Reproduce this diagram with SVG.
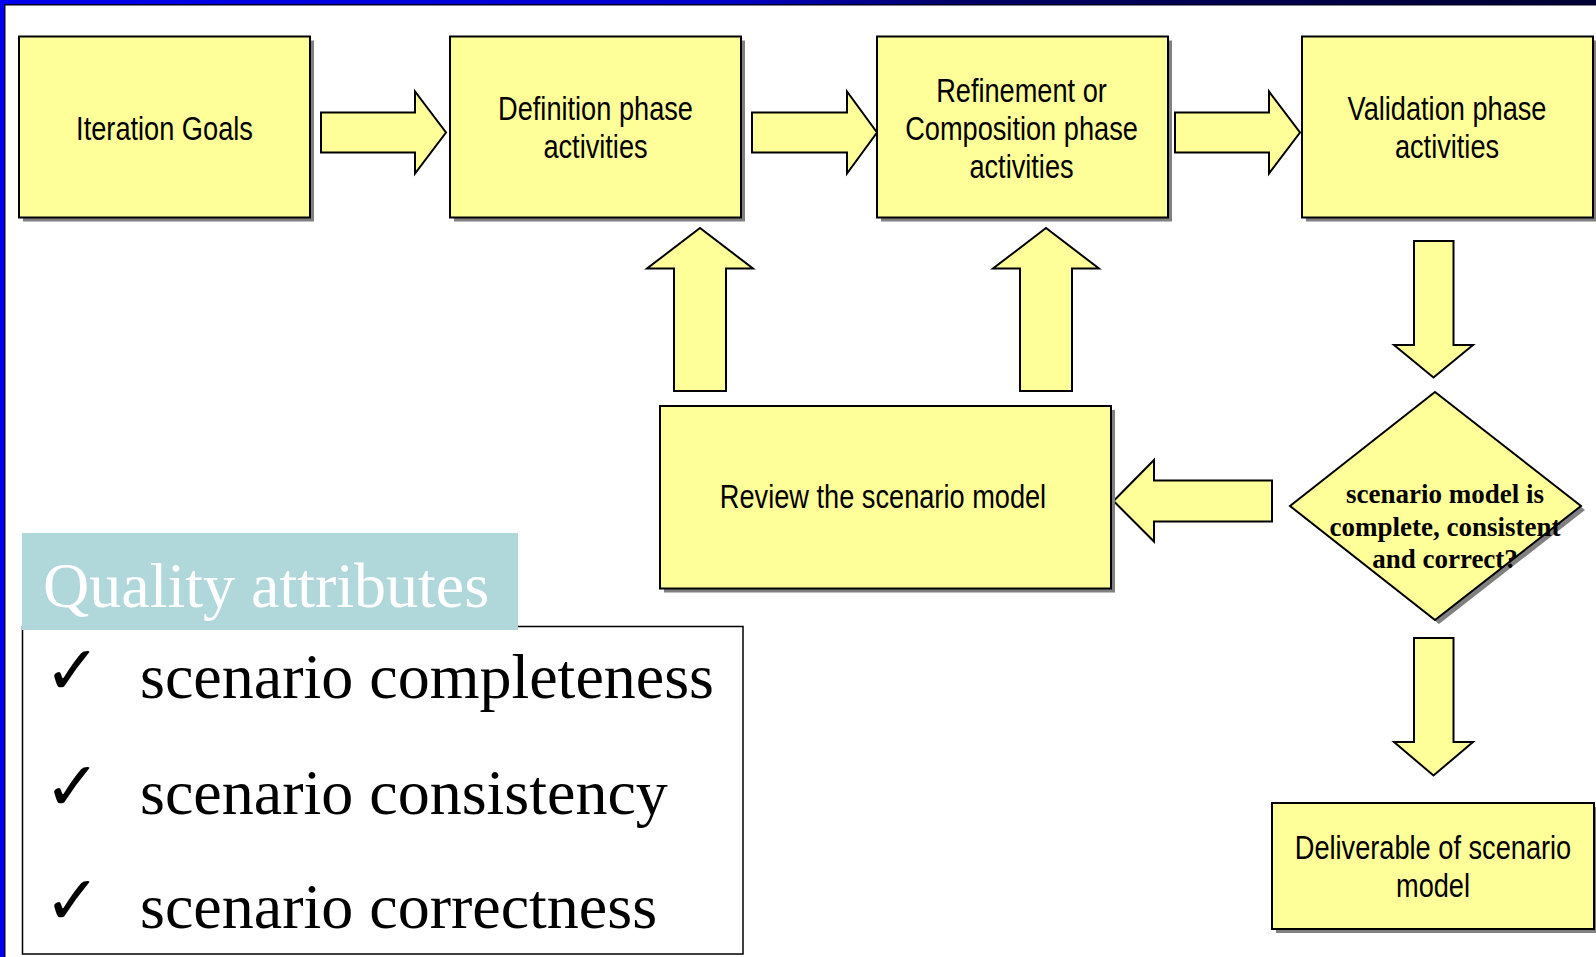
<svg xmlns="http://www.w3.org/2000/svg" width="1596" height="957" viewBox="0 0 1596 957">
  <style>
    .box { fill: #FFFF99; stroke: #000; stroke-width: 2; }
    .shadow { fill: #808080; }
    .arrow { fill: #FFFF99; stroke: #000; stroke-width: 2; stroke-linejoin: miter; }
    .lbl { font-family: "Liberation Sans Narrow", "Liberation Sans", Arial, sans-serif; font-size: 34px; fill: #000; text-anchor: middle; }
    .qlbl { font-family: "Liberation Serif", "Times New Roman", serif; font-weight: bold; font-size: 27px; fill: #000; text-anchor: middle; }
    .item { font-family: "Liberation Serif", "Times New Roman", serif; font-size: 64px; fill: #000; }
    .check { font-family: "DejaVu Sans", sans-serif; font-weight: bold; font-size: 68px; fill: #000; }
  </style>
  <defs>
    <linearGradient id="topbar" x1="0" y1="0" x2="1" y2="0">
      <stop offset="0" stop-color="#0000EE"/>
      <stop offset="0.45" stop-color="#0000CC"/>
      <stop offset="0.6" stop-color="#000066"/>
      <stop offset="1" stop-color="#000033"/>
    </linearGradient>
  </defs>

  <rect width="1596" height="957" fill="#FFFFFF"/>

  <!-- slide frame -->
  <g id="frame">
    <rect x="0" y="0" width="1596" height="4" fill="url(#topbar)"/>
    <rect x="0" y="4" width="1596" height="1.5" fill="#000022"/>
    <rect x="0" y="0" width="4" height="957" fill="#0000EE"/>
    <rect x="4" y="5" width="1.5" height="952" fill="#000044"/>
  </g>

  <!-- flow arrows -->
  <g id="connectors">
    <polygon class="arrow" points="321,112.5 415,112.5 415,91.5 446,132.5 415,173.5 415,152.5 321,152.5"/>
    <polygon class="arrow" points="752,112.5 847,112.5 847,91.5 877,132.5 847,173.5 847,152.5 752,152.5"/>
    <polygon class="arrow" points="1175,112.5 1269,112.5 1269,91.5 1300,132.5 1269,173.5 1269,152.5 1175,152.5"/>
    <polygon class="arrow" points="674,391 674,268.5 647,268.5 700,228 753,268.5 726,268.5 726,391"/>
    <polygon class="arrow" points="1020,391 1020,268.5 993,268.5 1046,228 1099,268.5 1072,268.5 1072,391"/>
    <polygon class="arrow" points="1272,480.5 1154,480.5 1154,460 1113.5,501 1154,541.5 1154,521.5 1272,521.5"/>
    <polygon class="arrow" points="1414,241 1453.5,241 1453.5,345 1473,345 1433.5,377.5 1394,345 1414,345"/>
    <polygon class="arrow" points="1414,638 1453.5,638 1453.5,742 1473,742 1433.5,775.5 1394,742 1414,742"/>
  </g>

  <!-- node labels are set in a narrowed sans: each text is scaled to 80% width about its centre -->
  <g id="iteration-goals">
    <rect class="shadow" x="23" y="40.5" width="291" height="181"/>
    <rect class="box" x="19" y="36.5" width="291" height="181"/>
    <text class="lbl" transform="matrix(0.8 0 0 1 164.5 139.5)">Iteration Goals</text>
  </g>

  <g id="definition-phase">
    <rect class="shadow" x="454" y="40.5" width="291" height="181"/>
    <rect class="box" x="450" y="36.5" width="291" height="181"/>
    <text class="lbl" transform="matrix(0.8 0 0 1 595.5 119.5)">Definition phase</text>
    <text class="lbl" transform="matrix(0.8 0 0 1 595.5 158)">activities</text>
  </g>

  <g id="refinement-phase">
    <rect class="shadow" x="881" y="40.5" width="291" height="181"/>
    <rect class="box" x="877" y="36.5" width="291" height="181"/>
    <text class="lbl" transform="matrix(0.8 0 0 1 1021.5 102)">Refinement or</text>
    <text class="lbl" transform="matrix(0.8 0 0 1 1021.5 140)">Composition phase</text>
    <text class="lbl" transform="matrix(0.8 0 0 1 1021.5 177.5)">activities</text>
  </g>

  <g id="validation-phase">
    <rect class="shadow" x="1306" y="40.5" width="291" height="181"/>
    <rect class="box" x="1302" y="36.5" width="291" height="181"/>
    <text class="lbl" transform="matrix(0.8 0 0 1 1447 119.5)">Validation phase</text>
    <text class="lbl" transform="matrix(0.8 0 0 1 1447 158)">activities</text>
  </g>

  <g id="review-model">
    <rect class="shadow" x="664" y="410" width="451" height="182.5"/>
    <rect class="box" x="660" y="406" width="451" height="182.5"/>
    <text class="lbl" transform="matrix(0.8 0 0 1 883 507.5)">Review the scenario model</text>
  </g>

  <g id="model-check">
    <polygon class="shadow" points="1439,396 1585,510 1439,624 1294,510"/>
    <polygon class="box" points="1435,392 1581,506 1435,620 1290,506"/>
    <text class="qlbl" x="1445" y="503">scenario model is</text>
    <text class="qlbl" x="1445" y="535.5">complete, consistent</text>
    <text class="qlbl" x="1445" y="568">and correct?</text>
  </g>

  <g id="deliverable">
    <rect class="shadow" x="1276" y="807" width="322" height="126"/>
    <rect class="box" x="1272" y="803" width="322" height="126"/>
    <text class="lbl" transform="matrix(0.8 0 0 1 1433 858.5)">Deliverable of scenario</text>
    <text class="lbl" transform="matrix(0.8 0 0 1 1433 896.5)">model</text>
  </g>

  <!-- quality attributes panel -->
  <g id="quality-attributes">
    <rect x="22.5" y="626.5" width="720.5" height="327.5" fill="#FFFFFF" stroke="#000" stroke-width="1.5"/>
    <rect x="22" y="533" width="496" height="97" fill="#B0D7DA"/>
    <text x="43" y="607" font-family="Liberation Serif, 'Times New Roman', serif" font-size="64px" fill="#FFFFFF">Quality attributes</text>
    <text class="check" x="44" y="694">✓</text>
    <text class="item" x="140" y="698">scenario completeness</text>
    <text class="check" x="44" y="810">✓</text>
    <text class="item" x="140" y="814">scenario consistency</text>
    <text class="check" x="44" y="924">✓</text>
    <text class="item" x="140" y="928">scenario correctness</text>
  </g>
</svg>
